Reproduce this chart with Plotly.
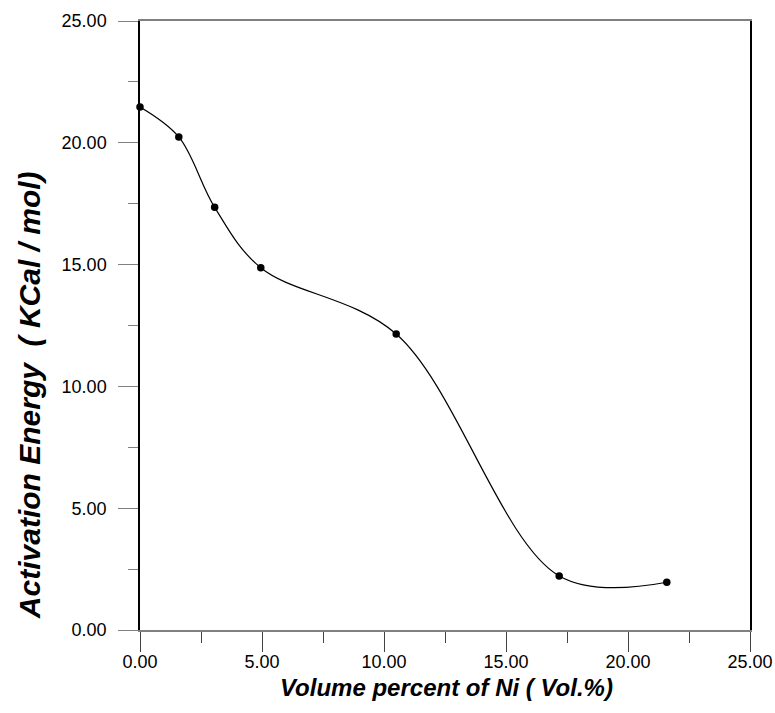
import plotly.graph_objects as go

# Data
vol_ni = [0.0, 1.59, 3.06, 4.95, 10.5, 17.18, 21.59]
activation_energy = [21.47, 20.24, 17.35, 14.87, 12.15, 2.22, 1.96]

x_ticks = [0, 5, 10, 15, 20, 25]
y_ticks = [0, 5, 10, 15, 20, 25]
x_title = "Volume percent of Ni ( Vol.%)"
y_title = "Activation Energy  ( KCal / mol)"

FONT = "Liberation Sans, Arial, sans-serif"

fig = go.Figure()
fig.add_trace(go.Scatter(
    x=vol_ni, y=activation_energy,
    mode="lines+markers",
    line=dict(color="black", width=1.2, shape="spline", smoothing=1.0),
    marker=dict(color="black", size=7.5),
    cliponaxis=False,
    showlegend=False,
))

fig.update_layout(
    template="none",
    width=775, height=713,
    margin=dict(l=140, r=25, t=21, b=83, autoexpand=False),
    plot_bgcolor="white", paper_bgcolor="white",
    font=dict(family=FONT, size=18, color="black"),
    xaxis=dict(
        range=[0, 25], tickvals=x_ticks, tickformat=".2f", automargin=False,
        ticks="outside", ticklen=20, tickwidth=1, tickcolor="#444",
        minor=dict(dtick=2.5, ticks="outside", ticklen=11, tickcolor="#444", tickwidth=1),
        showline=True, linecolor="#808080", linewidth=1.5, mirror=True,
        showgrid=False, zeroline=False,
        ticklabelstandoff=-5,
    ),
    yaxis=dict(
        range=[0, 25], tickvals=y_ticks, tickformat=".2f", automargin=False,
        ticks="outside", ticklen=20, tickwidth=1, tickcolor="#808080",
        minor=dict(dtick=2.5, ticks="outside", ticklen=10, tickcolor="#808080", tickwidth=1),
        showline=True, linecolor="black", linewidth=1.5, mirror=True,
        showgrid=False, zeroline=False,
        ticklabelstandoff=8,
    ),
    annotations=[
        dict(
            text="<b><i>" + y_title + "</i></b>", textangle=-90,
            xref="paper", yref="paper", x=-0.18, y=0.386,
            xanchor="center", yanchor="middle", showarrow=False,
            font=dict(size=30, family=FONT, color="black"),
        ),
        dict(
            text="<b><i>" + x_title + "</i></b>",
            xref="paper", yref="paper", x=0.503, y=-0.095,
            xanchor="center", yanchor="middle", showarrow=False,
            font=dict(size=24, family=FONT, color="black"),
        ),
    ],
)

# remove the default page margin so the figure fills the 775x713 window exactly
fig.write_html(
    "out.html",
    config={"displayModeBar": False},
    post_script="document.body.style.margin='0';document.body.style.overflow='hidden';",
)
